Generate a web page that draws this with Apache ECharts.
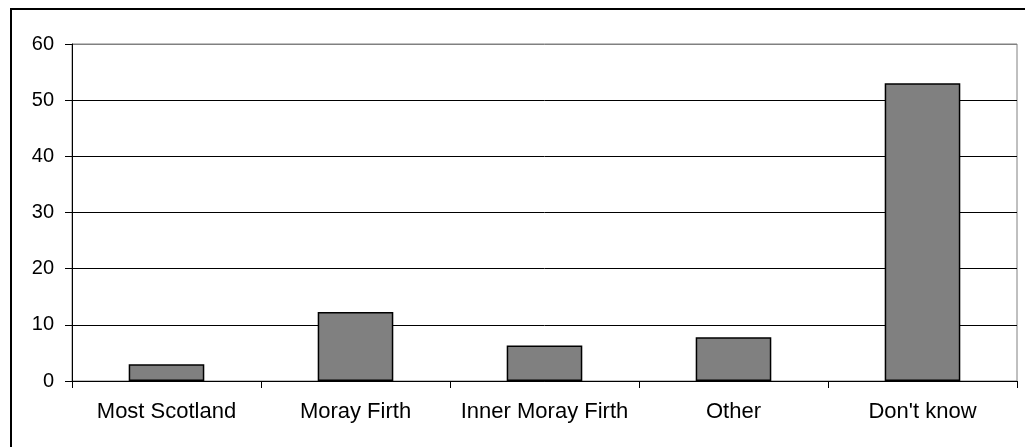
<!DOCTYPE html>
<html>
<head>
<meta charset="utf-8">
<script src="https://cdn.jsdelivr.net/npm/echarts@6/dist/echarts.min.js"></script>
<style>
  html, body { margin: 0; padding: 0; background: #fff; }
  #chart { width: 1025px; height: 447px; }
</style>
</head>
<body>
<div id="chart"></div>
<script>
const categories = ["Most Scotland", "Moray Firth", "Inner Moray Firth", "Other", "Don't know"];
const values = [3, 12.3, 6.3, 7.8, 53];
const yTicks = { min: 0, max: 60, interval: 10 };

const chart = echarts.init(document.getElementById("chart"));

// gridlines black, the top one doubles as the grey plot frame
const splitColors = ["#000", "#000", "#000", "#000", "#000", "#000", "#808080"];

const option = {
  animation: false,
  textStyle: { fontFamily: "Liberation Sans, Arial, sans-serif" },
  graphic: [
    {
      type: "rect",
      shape: { x: 11, y: 9, width: 1200, height: 600 },
      style: { fill: "none", stroke: "#000", lineWidth: 2 },
      silent: true,
    },
  ],
  grid: {
    left: 72,
    right: 8,
    top: 44,
    bottom: 66,
    show: true,
    borderColor: "#808080",
    borderWidth: 1,
  },
  xAxis: {
    type: "category",
    data: categories,
    axisLine: { lineStyle: { color: "#000", width: 1 } },
    axisTick: { show: true, interval: 0, length: 7, lineStyle: { color: "#000" } },
    axisLabel: { color: "#000", fontSize: 22, margin: 20, interval: 0 },
  },
  yAxis: {
    type: "value",
    min: yTicks.min,
    max: yTicks.max,
    interval: yTicks.interval,
    axisLine: { show: true, lineStyle: { color: "#000", width: 1 } },
    axisTick: { show: true, length: 7, lineStyle: { color: "#000" } },
    axisLabel: { color: "#000", fontSize: 20, margin: 18 },
    splitLine: { show: true, lineStyle: { color: splitColors, width: 1 } },
  },
  series: [
    {
      type: "bar",
      data: values,
      barWidth: "40%",
      itemStyle: { color: "#808080", borderColor: "#000", borderWidth: 1.5 },
    },
  ],
};

chart.setOption(option);
</script>
</body>
</html>
